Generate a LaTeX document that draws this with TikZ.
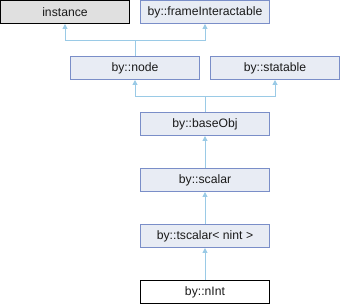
\documentclass[tikz,border=0pt]{standalone}
\usepackage{fontspec}
\setmainfont{Liberation Sans}
\usetikzlibrary{arrows.meta}
\definecolor{boxfill}{HTML}{E8ECF4}
\definecolor{boxline}{HTML}{7A8EC8}
\definecolor{edgeblue}{HTML}{9ACAE6}
\definecolor{greyfill}{HTML}{E0E0E0}
\definecolor{txt}{HTML}{1A1A1A}
\begin{document}
\begin{tikzpicture}[x=1pt,y=-1pt,
  cls/.style={draw=boxline,fill=boxfill,line width=1pt,minimum width=129pt,minimum height=23pt,inner sep=0pt,text=txt,font=\fontsize{12.2}{14}\selectfont},
  ext/.style={cls,draw=black,fill=greyfill},
  cur/.style={cls,draw=black,fill=white},
  edge/.style={draw=edgeblue,line width=1pt,-{Triangle[width=5pt,length=5pt]}}]
\useasboundingbox (0,0) rectangle (340,304);
\node[ext] (instance) at (65,12) {instance};
\node[cls] (frame) at (205,12) {by::frameInteractable};
\node[cls] (node) at (135,68) {by::node};
\node[cls] (statable) at (275,68) {by::statable};
\node[cls] (baseobj) at (205,124) {by::baseObj};
\node[cls] (scalar) at (205,180) {by::scalar};
\node[cls] (tscalar) at (205,236) {by::tscalar< nint >};
\node[cur] (nint) at (205,292) {by::nInt};
% inheritance
\coordinate (j1) at (135,40.5);
\coordinate (j2) at (205,96.5);
\draw[edge] (node.north) -- (j1) -| (instance.south);
\draw[edge] (j1) -| (frame.south);
\draw[edge] (baseobj.north) -- (j2) -| (node.south);
\draw[edge] (j2) -| (statable.south);
\draw[edge] (scalar) -- (baseobj);
\draw[edge] (tscalar) -- (scalar);
\draw[edge] (nint) -- (tscalar);
\end{tikzpicture}
\end{document}
